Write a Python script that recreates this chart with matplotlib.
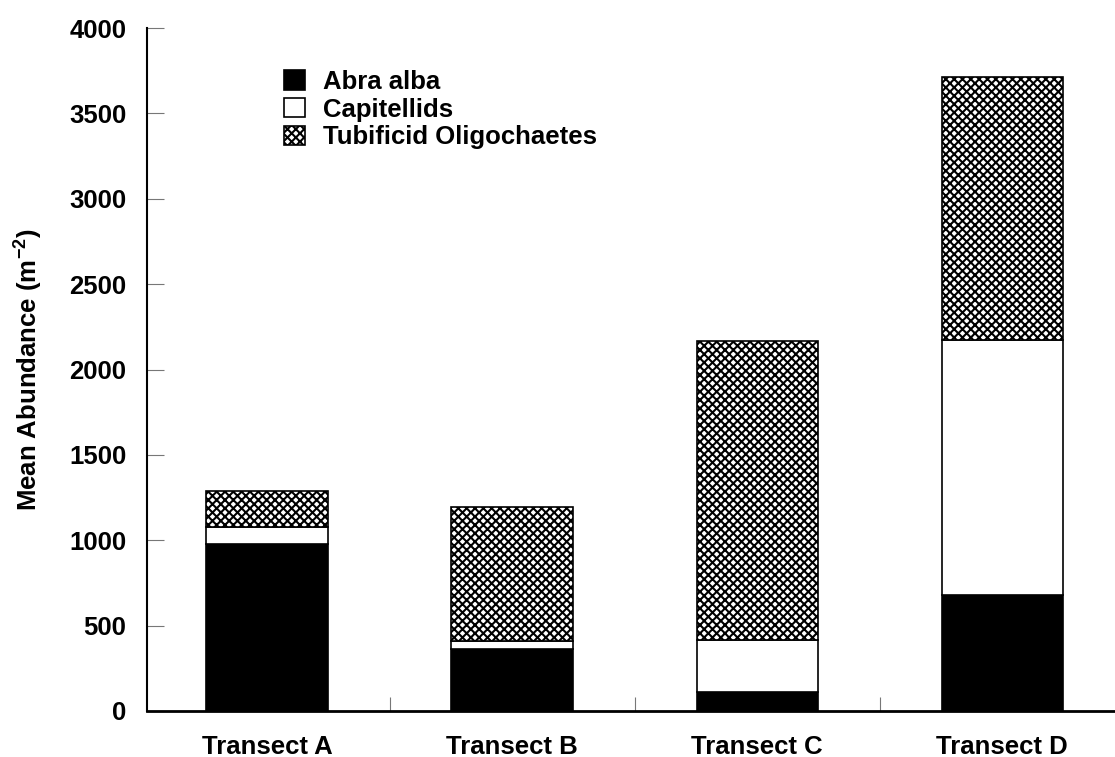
import numpy as np
import matplotlib
matplotlib.use("Agg")
import matplotlib.pyplot as plt

plt.rcParams["font.family"] = ["Liberation Sans", "DejaVu Sans"]
plt.rcParams["font.weight"] = "bold"
plt.rcParams["mathtext.fontset"] = "custom"
plt.rcParams["mathtext.rm"] = "Liberation Sans:bold"
plt.rcParams["mathtext.bf"] = "Liberation Sans:bold"
plt.rcParams["mathtext.default"] = "bf"
plt.rcParams["hatch.linewidth"] = 1.5

transects = ["Transect A", "Transect B", "Transect C", "Transect D"]
abra_alba = [978, 363, 111, 680]
capitellids = [100, 47, 305, 1493]
tubificids = [211, 785, 1753, 1541]
yticks = [0, 500, 1000, 1500, 2000, 2500, 3000, 3500, 4000]

x = np.arange(len(transects))
width = 0.495
fs = 18.5

fig = plt.figure(figsize=(11.15, 7.57), dpi=100)
ax = fig.add_axes([147 / 1115, 46 / 757, 968 / 1115, 683 / 757])

bottom2 = np.array(abra_alba)
bottom3 = bottom2 + np.array(capitellids)
ax.bar(x, abra_alba, width, color="black", edgecolor="black", linewidth=1.2,
       label="Abra alba")
ax.bar(x, capitellids, width, bottom=bottom2, color="white", edgecolor="black",
       linewidth=1.2, label="Capitellids")
ax.bar(x, tubificids, width, bottom=bottom3, color="white", edgecolor="black",
       linewidth=1.2, hatch="xxxx", label="Tubificid Oligochaetes")

ax.set_xlim(-0.49, 3.46)
ax.set_ylim(0, 4000)
ax.set_yticks(yticks)
ax.set_yticklabels([str(v) for v in yticks], fontsize=fs, fontweight="bold")
ax.set_xticks(x)
ax.set_xticklabels(transects, fontsize=fs, fontweight="bold")
ax.set_xticks([0.5, 1.5, 2.5], minor=True)

ax.tick_params(axis="y", direction="in", length=12, width=0.8, color="#777777", pad=15)
ax.tick_params(axis="x", which="major", length=0, pad=17)
ax.tick_params(axis="x", which="minor", direction="in", length=10, width=0.8, color="#777777")

for side in ["top", "right"]:
    ax.spines[side].set_visible(False)
ax.spines["left"].set_linewidth(1.5)
ax.spines["bottom"].set_linewidth(2)

ax.set_ylabel("Mean Abundance (m$^{-2}$)", fontsize=fs, fontweight="bold")
ax.yaxis.set_label_coords(-0.105, 0.5)

ax.legend(loc="upper left", bbox_to_anchor=(0.1415, 0.939), frameon=False,
          fontsize=fs, borderpad=0, borderaxespad=0, handlelength=0.8,
          handleheight=0.8, handletextpad=0.7, labelspacing=0.15)

fig.savefig("out.png", dpi=100)
